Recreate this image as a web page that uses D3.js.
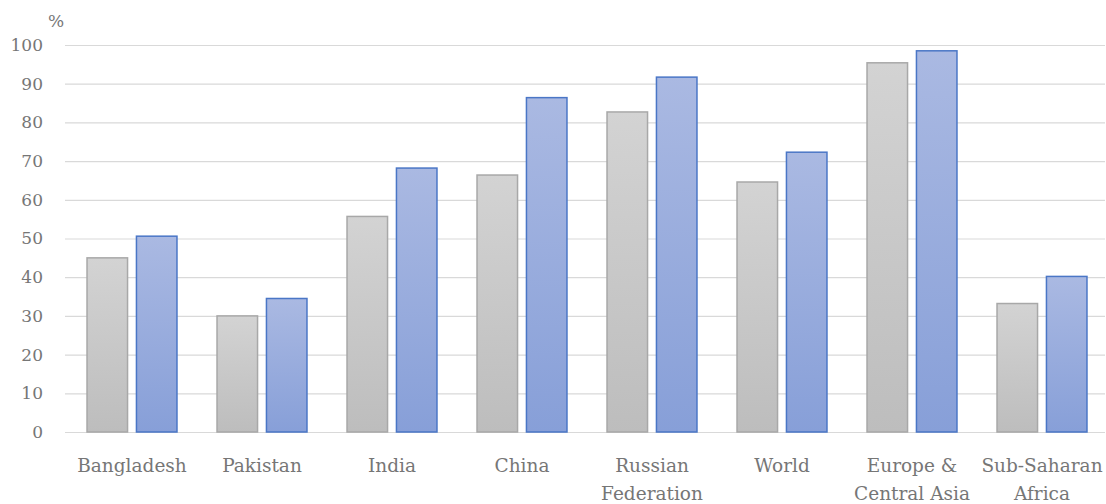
<!DOCTYPE html>
<html><head><meta charset="utf-8">
<script src="https://cdn.jsdelivr.net/npm/d3@7"></script>
<style>body{margin:0;background:#fff}svg{display:block}</style>
</head><body><svg id="c" width="1106" height="504"></svg>
<script>
const categories = [["Bangladesh"],["Pakistan"],["India"],["China"],["Russian","Federation"],["World"],["Europe &","Central Asia"],["Sub-Saharan","Africa"]];
const seriesA = [45, 30, 55.7, 66.4, 82.7, 64.6, 95.4, 33.2];
const seriesB = [50.6, 34.5, 68.2, 86.4, 91.7, 72.3, 98.5, 40.2];
const yTicks = [0,10,20,30,40,50,60,70,80,90,100];

(function(){
const svg = d3.select("#c");
const left=65, right=1105, plotTop=45, plotBottom=432;
const defs = svg.append("defs");
const g1 = defs.append("linearGradient").attr("id","gA").attr("x1",0).attr("y1",0).attr("x2",0).attr("y2",1);
g1.append("stop").attr("offset","0").attr("stop-color","#d3d3d3");
g1.append("stop").attr("offset","1").attr("stop-color","#bdbdbd");
const g2 = defs.append("linearGradient").attr("id","gB").attr("x1",0).attr("y1",0).attr("x2",0).attr("y2",1);
g2.append("stop").attr("offset","0").attr("stop-color","#aab9e2");
g2.append("stop").attr("offset","1").attr("stop-color","#879fd8");

const y = d3.scaleLinear().domain([0,100]).range([plotBottom,plotTop]);
const x = d3.scaleBand().domain(d3.range(categories.length)).range([left+2,right+2]).paddingInner(0.308).paddingOuter(0.154);
const xs = d3.scaleBand().domain([0,1]).range([0,x.bandwidth()]).paddingInner(0.18);

const font = "DejaVu Serif, Liberation Serif, serif";
const col = "#767676";
const grid = svg.append("g");
grid.selectAll("line").data(yTicks).join("line")
  .attr("x1",left).attr("x2",right).attr("y1",d=>y(d)+0.5).attr("y2",d=>y(d)+0.5)
  .attr("stroke","#d9d9d9").attr("stroke-width",1.2);

const yAxis = d3.axisLeft(y).tickValues(yTicks).tickSize(0).tickPadding(22);
const ya = svg.append("g").attr("transform",`translate(${left},0)`).call(yAxis);
ya.select(".domain").remove();
ya.selectAll("text").style("font-family",font).style("font-size","17px").attr("fill",col);

svg.append("text").attr("x",48).attr("y",27).text("%").style("font-family",font).style("font-size","17px").attr("fill",col);

const bars = svg.append("g");
categories.forEach((c,i)=>{
  [seriesA[i],seriesB[i]].forEach((v,j)=>{
    bars.append("rect").attr("x",x(i)+xs(j)).attr("width",xs.bandwidth())
      .attr("y",y(v)).attr("height",y(0)-y(v))
      .attr("fill",j?"url(#gB)":"url(#gA)")
      .attr("stroke",j?"#4a76c6":"#a8a8a8").attr("stroke-width",1.5);
  });
});

const xa = svg.append("g");
categories.forEach((c,i)=>{
  const cx = x(i)+x.bandwidth()/2;
  const t = xa.append("text").attr("x",cx).attr("y",472)
    .attr("text-anchor","middle").style("font-family",font).style("font-size","18.5px").attr("fill",col);
  c.forEach((line,k)=>t.append("tspan").attr("x",cx).attr("dy",k?28:0).text(line));
});
})();
</script></body></html>
